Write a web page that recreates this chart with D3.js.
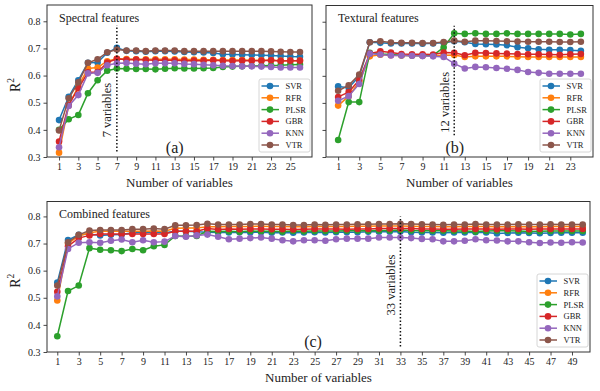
<!DOCTYPE html>
<html><head><meta charset="utf-8">
<script src="https://cdn.jsdelivr.net/npm/d3@7"></script>
<style>
body{margin:0;background:#fff}
svg text{font-family:"Liberation Serif","Times New Roman",serif !important;fill:#222}
</style>
</head><body>
<svg id="chart" width="600" height="391" font-family="Liberation Serif, serif"></svg>
<script>
const models = ["SVR","RFR","PLSR","GBR","KNN","VTR"];
const colors = ["#1f77b4","#ff7f0e","#2ca02c","#d62728","#9467bd","#8c564b"];
const yTickValues = [0.3,0.4,0.5,0.6,0.7,0.8];

// (a) Spectral features, x = 1..26
const spectralSVR  = [0.436,0.522,0.583,0.647,0.648,0.684,0.702,0.691,0.690,0.688,0.690,0.690,0.689,0.687,0.686,0.685,0.683,0.679,0.678,0.677,0.676,0.675,0.674,0.672,0.670,0.669];
const spectralRFR  = [0.316,0.490,0.560,0.626,0.630,0.653,0.662,0.661,0.660,0.660,0.660,0.660,0.660,0.659,0.659,0.658,0.658,0.657,0.657,0.657,0.656,0.656,0.656,0.655,0.655,0.655];
const spectralPLSR = [0.400,0.439,0.455,0.535,0.583,0.618,0.626,0.625,0.624,0.624,0.623,0.625,0.627,0.626,0.626,0.627,0.628,0.632,0.633,0.634,0.635,0.636,0.637,0.638,0.640,0.641];
const spectralGBR  = [0.357,0.492,0.553,0.612,0.613,0.648,0.662,0.658,0.659,0.657,0.656,0.656,0.656,0.655,0.655,0.655,0.656,0.655,0.654,0.655,0.655,0.655,0.656,0.654,0.655,0.655];
const spectralKNN  = [0.336,0.488,0.528,0.608,0.610,0.638,0.645,0.646,0.644,0.642,0.645,0.645,0.645,0.643,0.642,0.640,0.638,0.636,0.635,0.634,0.634,0.633,0.632,0.630,0.630,0.630];
const spectralVTR  = [0.398,0.516,0.575,0.647,0.660,0.686,0.696,0.692,0.692,0.690,0.692,0.692,0.692,0.690,0.690,0.690,0.690,0.690,0.690,0.690,0.690,0.690,0.689,0.688,0.687,0.687];

// (b) Textural features, x = 1..24
const texturalSVR  = [0.561,0.556,0.598,0.724,0.722,0.720,0.720,0.720,0.719,0.720,0.722,0.728,0.724,0.718,0.717,0.716,0.713,0.706,0.702,0.698,0.696,0.696,0.695,0.693];
const texturalRFR  = [0.490,0.525,0.578,0.672,0.678,0.676,0.675,0.675,0.674,0.674,0.676,0.677,0.670,0.672,0.672,0.672,0.672,0.671,0.670,0.670,0.670,0.670,0.670,0.670];
const texturalPLSR = [0.363,0.503,0.503,0.685,0.681,0.679,0.676,0.675,0.675,0.676,0.705,0.757,0.755,0.757,0.755,0.755,0.757,0.755,0.755,0.755,0.755,0.755,0.753,0.755];
const texturalGBR  = [0.522,0.540,0.585,0.682,0.691,0.686,0.681,0.680,0.680,0.679,0.686,0.685,0.676,0.685,0.684,0.683,0.682,0.681,0.680,0.680,0.679,0.678,0.680,0.681];
const texturalKNN  = [0.508,0.525,0.570,0.682,0.679,0.675,0.675,0.674,0.673,0.672,0.670,0.645,0.627,0.633,0.632,0.629,0.626,0.622,0.614,0.611,0.608,0.608,0.608,0.608];
const texturalVTR  = [0.545,0.565,0.605,0.724,0.728,0.723,0.722,0.722,0.721,0.721,0.725,0.730,0.726,0.730,0.730,0.729,0.728,0.727,0.726,0.726,0.726,0.725,0.725,0.726];

// (c) Combined features, x = 1..50
const combinedSVR = [
 0.556,0.713,0.732,0.735,0.730,0.732,0.733,0.740,0.742,0.742,
 0.740,0.745,0.745,0.743,0.742,0.741,0.741,0.742,0.741,0.742,
 0.740,0.741,0.740,0.741,0.742,0.741,0.742,0.742,0.742,0.743,
 0.743,0.743,0.744,0.742,0.741,0.741,0.740,0.741,0.741,0.742,
 0.741,0.737,0.739,0.740,0.739,0.738,0.739,0.740,0.740,0.740];
const combinedRFR = [
 0.490,0.700,0.728,0.740,0.745,0.745,0.745,0.745,0.745,0.746,
 0.745,0.756,0.757,0.757,0.762,0.762,0.763,0.763,0.763,0.764,
 0.763,0.763,0.762,0.762,0.763,0.763,0.763,0.763,0.764,0.764,
 0.765,0.765,0.765,0.764,0.763,0.763,0.762,0.762,0.763,0.763,
 0.763,0.762,0.762,0.762,0.762,0.762,0.763,0.763,0.763,0.763];
const combinedPLSR = [
 0.358,0.525,0.545,0.683,0.677,0.675,0.672,0.680,0.675,0.690,
 0.695,0.728,0.727,0.728,0.745,0.744,0.745,0.743,0.746,0.745,
 0.745,0.744,0.746,0.745,0.746,0.746,0.746,0.747,0.747,0.747,
 0.748,0.748,0.750,0.748,0.747,0.747,0.747,0.746,0.746,0.744,
 0.746,0.747,0.747,0.746,0.744,0.745,0.746,0.746,0.746,0.746];
const combinedGBR = [
 0.522,0.690,0.720,0.730,0.735,0.735,0.735,0.735,0.735,0.735,
 0.735,0.745,0.745,0.745,0.755,0.752,0.754,0.753,0.754,0.754,
 0.753,0.753,0.752,0.753,0.754,0.754,0.754,0.753,0.754,0.754,
 0.755,0.755,0.755,0.755,0.754,0.754,0.753,0.753,0.754,0.754,
 0.754,0.753,0.754,0.754,0.753,0.754,0.754,0.754,0.754,0.754];
const combinedKNN = [
 0.505,0.680,0.703,0.705,0.703,0.710,0.715,0.705,0.712,0.705,
 0.707,0.728,0.725,0.730,0.733,0.725,0.716,0.718,0.720,0.722,
 0.718,0.712,0.708,0.712,0.712,0.710,0.716,0.718,0.718,0.718,
 0.722,0.722,0.722,0.720,0.717,0.716,0.708,0.708,0.710,0.716,
 0.712,0.711,0.708,0.708,0.705,0.702,0.704,0.703,0.705,0.704];
const combinedVTR = [
 0.545,0.705,0.732,0.748,0.750,0.750,0.750,0.753,0.753,0.755,
 0.753,0.767,0.767,0.768,0.773,0.770,0.770,0.770,0.772,0.772,
 0.770,0.770,0.768,0.768,0.770,0.769,0.770,0.770,0.771,0.771,
 0.772,0.772,0.773,0.772,0.771,0.770,0.769,0.770,0.770,0.772,
 0.770,0.770,0.770,0.771,0.770,0.770,0.771,0.770,0.770,0.770];

const panelTitles = ["Spectral features","Textural features","Combined features"];
const panelLetters = ["(a)","(b)","(c)"];
const selectedCounts = [7, 12, 33];
const xTickSets = [d3.range(1,26,2), d3.range(1,24,2), d3.range(1,50,2)];

const panels = [
  {series:[spectralSVR,spectralRFR,spectralPLSR,spectralGBR,spectralKNN,spectralVTR],
   box:{l:47,t:5,r:312,b:157}, xdom:[-0.25,27.25], ydom:[0.3,0.86], ylabels:true,
   letter:[13,0.316], vline:[0.32,0.785], vtext:0.473},
  {series:[texturalSVR,texturalRFR,texturalPLSR,texturalGBR,texturalKNN,texturalVTR],
   box:{l:326,t:5.5,r:593,b:157}, xdom:[-0.15,25.15], ydom:[0.3,0.86], ylabels:false,
   letter:[12.05,0.316], vline:[0.38,0.785], vtext:0.502},
  {series:[combinedSVR,combinedRFR,combinedPLSR,combinedGBR,combinedKNN,combinedVTR],
   box:{l:47,t:201.5,r:590,b:352}, xdom:[0.04,50.68], ydom:[0.3,0.855], ylabels:true,
   letter:[24.85,0.318], vline:[0.32,0.80], vtext:0.547}
];

const FONT = '"Liberation Serif","Times New Roman",serif';
const svg = d3.select("#chart");

panels.forEach((p, pi) => {
  const B = p.box;
  const x = d3.scaleLinear().domain(p.xdom).range([B.l, B.r]);
  const y = d3.scaleLinear().domain(p.ydom).range([B.b, B.t]);
  const g = svg.append("g");

  const xAxis = d3.axisBottom(x).tickValues(xTickSets[pi]).tickSize(3.5).tickPadding(2.5).tickFormat(d3.format("d"));
  const gx = g.append("g").attr("transform", `translate(0,${B.b})`).call(xAxis);
  const yAxis = d3.axisLeft(y).tickValues(yTickValues).tickSize(3.5).tickPadding(3)
     .tickFormat(p.ylabels ? d3.format(".1f") : () => "");
  const gy = g.append("g").attr("transform", `translate(${B.l},0)`).call(yAxis);
  [gx, gy].forEach(a => {
    a.attr("font-family", FONT);
    a.select(".domain").remove();
    a.selectAll(".tick line").attr("stroke","#333").attr("stroke-width",0.9);
    a.selectAll(".tick text").attr("font-size",10).attr("fill","#222");
  });

  g.append("rect").attr("x",B.l).attr("y",B.t).attr("width",B.r-B.l).attr("height",B.b-B.t)
    .attr("fill","none").attr("stroke","#333").attr("stroke-width",1);

  const line = d3.line().x((d,i)=>x(i+1)).y(d=>y(d));
  p.series.forEach((vals, si) => {
    const sg = g.append("g");
    sg.append("path").datum(vals).attr("d", line).attr("fill","none")
      .attr("stroke", colors[si]).attr("stroke-width",1.5);
    sg.selectAll("circle").data(vals).join("circle")
      .attr("cx",(d,i)=>x(i+1)).attr("cy",d=>y(d)).attr("r",3.3).attr("fill",colors[si]);
  });

  const xv = x(selectedCounts[pi]);
  g.append("line").attr("x1",xv).attr("x2",xv).attr("y1",y(p.vline[0])).attr("y2",y(p.vline[1]))
    .attr("stroke","#111").attr("stroke-width",1.5).attr("stroke-dasharray","1.5,2");
  g.append("text").attr("transform",`translate(${xv-5.5},${y(p.vtext)}) rotate(-90)`)
    .attr("text-anchor","middle").attr("font-size",12.5).attr("font-family",FONT)
    .text(`${selectedCounts[pi]} variables`);

  g.append("text").attr("x",B.l+12).attr("y",B.t+16.5).attr("font-size",12).attr("font-family",FONT)
    .text(panelTitles[pi]);
  g.append("text").attr("x",x(p.letter[0])).attr("y",y(p.letter[1])).attr("text-anchor","middle")
    .attr("font-size",16).attr("font-family",FONT).text(panelLetters[pi]);

  g.append("text").attr("x",(B.l+B.r)/2).attr("y",B.b+30).attr("text-anchor","middle")
    .attr("font-size",13).attr("font-family",FONT).text("Number of variables");
  if (p.ylabels) {
    const t = g.append("text").attr("transform",`translate(20,${(B.t+B.b)/2+4}) rotate(-90)`)
      .attr("text-anchor","middle").attr("font-size",14).attr("font-family",FONT);
    t.append("tspan").text("R");
    t.append("tspan").attr("font-size",9.5).attr("dy",-6).text("2");
  }

  const lw = 51, lh = 73;
  const lx = B.r - 2 - lw, ly = B.b - 5 - lh;
  const lg = g.append("g").attr("transform",`translate(${lx},${ly})`);
  lg.append("rect").attr("width",lw).attr("height",lh).attr("rx",2)
    .attr("fill","rgba(255,255,255,0.85)").attr("stroke","#ccc").attr("stroke-width",0.8);
  models.forEach((m, i) => {
    const yy = 7 + i*11.8;
    lg.append("line").attr("x1",2.5).attr("x2",20).attr("y1",yy).attr("y2",yy)
      .attr("stroke",colors[i]).attr("stroke-width",1.5);
    lg.append("circle").attr("cx",11).attr("cy",yy).attr("r",3.3).attr("fill",colors[i]);
    lg.append("text").attr("x",26.5).attr("y",yy+3).attr("font-size",8.5).attr("font-family",FONT).text(m);
  });
});
</script>
</body></html>
